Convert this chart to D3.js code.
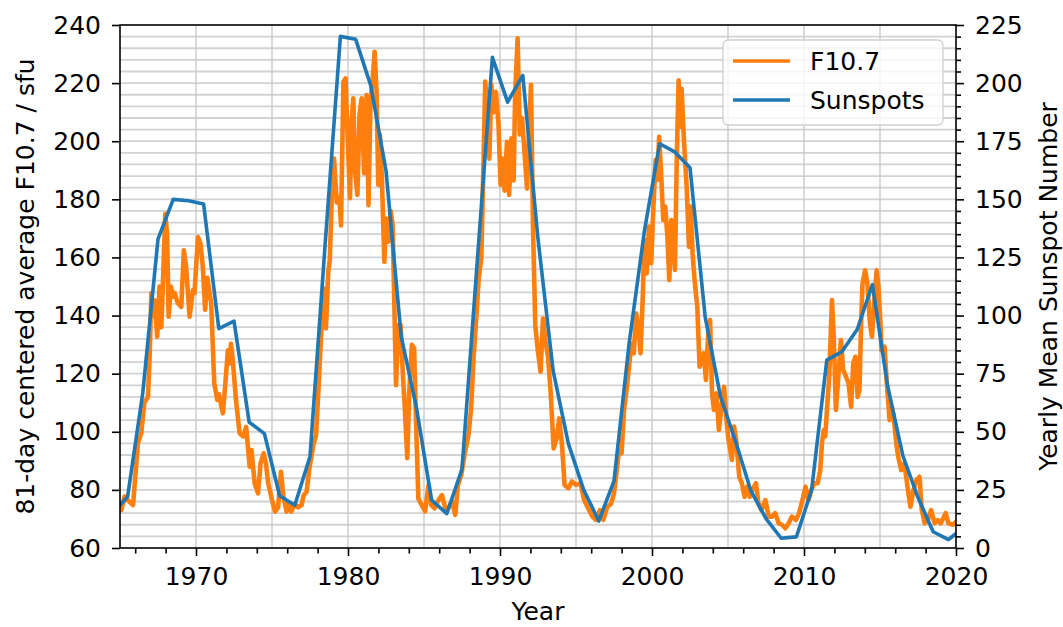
<!DOCTYPE html>
<html>
<head>
<meta charset="utf-8">
<script src="https://cdn.jsdelivr.net/npm/d3@7"></script>
<style>
  html, body { margin: 0; padding: 0; background: #fff; }
  svg { display: block; }
  text { font-family: "DejaVu Sans", sans-serif; }
</style>
</head>
<body>
<svg id="chart" width="1063" height="627"></svg>
<script>
// ---------------- DATA ----------------
const sunspotYears = [1964.5,1965.5,1966.5,1967.5,1968.5,1969.5,1970.5,1971.5,1972.5,1973.5,1974.5,1975.5,1976.5,1977.5,1978.5,1979.5,1980.5,1981.5,1982.5,1983.5,1984.5,1985.5,1986.5,1987.5,1988.5,1989.5,1990.5,1991.5,1992.5,1993.5,1994.5,1995.5,1996.5,1997.5,1998.5,1999.5,2000.5,2001.5,2002.5,2003.5,2004.5,2005.5,2006.5,2007.5,2008.5,2009.5,2010.5,2011.5,2012.5,2013.5,2014.5,2015.5,2016.5,2017.5,2018.5,2019.5,2020.5];
const sunspotValues = [15.0,22.0,66.8,132.9,150.0,149.4,148.0,94.4,97.6,54.1,49.2,22.5,18.4,39.3,131.0,220.1,218.9,198.9,162.4,91.0,60.5,20.6,14.8,33.9,123.0,211.1,191.8,203.3,133.0,76.1,44.9,25.1,11.6,28.9,88.3,136.3,173.9,170.4,163.6,99.3,65.3,45.8,24.7,12.6,4.2,4.8,24.9,80.8,84.5,94.0,113.3,69.8,39.8,21.7,7.0,3.6,8.8];

const f107Time = [1965.0,1965.09,1965.3,1965.5,1965.86,1965.97,1966.18,1966.4,1966.6,1966.84,1966.95,1967.06,1967.1,1967.28,1967.45,1967.6,1967.72,1967.8,1967.98,1968.1,1968.2,1968.35,1968.5,1968.6,1968.8,1969.03,1969.2,1969.35,1969.58,1969.8,1969.9,1970.13,1970.3,1970.45,1970.6,1970.75,1971.0,1971.2,1971.4,1971.5,1971.77,1971.9,1972.1,1972.2,1972.3,1972.4,1972.65,1972.87,1973.1,1973.3,1973.53,1973.65,1973.86,1974.08,1974.25,1974.45,1974.6,1974.75,1974.98,1975.2,1975.4,1975.59,1975.75,1975.96,1976.1,1976.27,1976.5,1976.7,1976.95,1977.07,1977.28,1977.46,1977.72,1977.9,1978.05,1978.2,1978.37,1978.55,1978.7,1978.8,1978.93,1979.08,1979.26,1979.43,1979.54,1979.7,1979.84,1979.98,1980.13,1980.24,1980.35,1980.46,1980.62,1980.76,1980.9,1981.06,1981.22,1981.35,1981.48,1981.66,1981.75,1981.88,1981.99,1982.1,1982.23,1982.39,1982.5,1982.65,1982.81,1982.94,1983.03,1983.16,1983.31,1983.46,1983.6,1983.74,1983.9,1984.03,1984.2,1984.35,1984.48,1984.63,1984.85,1985.07,1985.3,1985.47,1985.7,1985.9,1986.18,1986.4,1986.6,1986.85,1987.06,1987.23,1987.45,1987.7,1987.93,1988.1,1988.26,1988.41,1988.6,1988.77,1988.92,1989.03,1989.15,1989.3,1989.43,1989.58,1989.73,1989.9,1990.04,1990.17,1990.3,1990.46,1990.6,1990.75,1990.9,1991.0,1991.16,1991.3,1991.45,1991.6,1991.78,1991.93,1992.04,1992.17,1992.32,1992.5,1992.67,1992.83,1992.98,1993.16,1993.33,1993.53,1993.73,1993.9,1994.08,1994.25,1994.5,1994.73,1995.0,1995.3,1995.53,1995.8,1996.08,1996.3,1996.58,1996.8,1997.06,1997.3,1997.5,1997.68,1997.83,1998.0,1998.16,1998.3,1998.49,1998.64,1998.8,1998.96,1999.1,1999.25,1999.4,1999.5,1999.65,1999.8,1999.95,2000.07,2000.24,2000.35,2000.47,2000.6,2000.74,2000.87,2001.0,2001.14,2001.27,2001.4,2001.51,2001.62,2001.75,2001.85,2001.95,2002.1,2002.28,2002.43,2002.54,2002.67,2002.8,2002.98,2003.13,2003.3,2003.4,2003.55,2003.7,2003.82,2003.95,2004.08,2004.25,2004.4,2004.57,2004.74,2004.9,2005.03,2005.26,2005.4,2005.56,2005.74,2005.91,2006.09,2006.26,2006.43,2006.6,2006.84,2007.0,2007.2,2007.46,2007.68,2007.9,2008.11,2008.33,2008.55,2008.77,2008.99,2009.2,2009.47,2009.68,2009.95,2010.1,2010.3,2010.47,2010.68,2010.9,2011.07,2011.18,2011.3,2011.4,2011.51,2011.66,2011.84,2011.95,2012.1,2012.26,2012.43,2012.58,2012.76,2012.93,2013.1,2013.24,2013.38,2013.53,2013.65,2013.75,2013.85,2014.02,2014.17,2014.34,2014.47,2014.62,2014.78,2014.9,2015.05,2015.09,2015.3,2015.45,2015.63,2015.78,2015.9,2016.07,2016.2,2016.4,2016.6,2016.84,2017.0,2017.2,2017.4,2017.6,2017.75,2017.94,2018.15,2018.36,2018.6,2018.8,2019.0,2019.32,2019.5,2019.8,2020.0];
const f107Flux = [73,73.1,77.7,76.5,74.8,82.3,96,99.6,110,112,125.8,147.7,139.6,145.3,132.7,150,136,147.7,175,168,139.6,150,146.5,147.7,144.3,143,162.5,156.7,139.6,148.8,147.7,167,164.7,156.7,142,153,144.2,116.7,111,113,106.4,114.5,128,123.5,130.3,125.8,109.8,99.5,98.4,101.7,88,93.7,82.3,78.8,89.2,92.6,89.2,82.3,77,72.5,74,86.2,77.7,72.5,75.2,72.5,75.2,74,74.8,78,79.4,87.4,95.4,99,113.8,129.9,149.4,135.6,155,159,180.3,194,178.9,180.6,171,220.5,221.6,201,180.4,206.6,214.8,190,181.5,209.5,214.8,189,215.9,178,213.6,224,230.8,217,185,202.3,187.3,158.5,173.4,165.4,176,171,148.2,116,136.7,136.7,120.7,108,90.9,113.8,129.9,128.8,102.4,77,74.8,72.6,81.7,74.8,73.7,76,78.2,73.7,73.7,76,71.4,81.7,85.1,93.1,99,108,125.3,136.7,152.8,159.7,194,220.5,211,194,219.4,210,217,206,185,194,183,199.8,181.5,201,186.5,217,235.4,202.3,208,197,183.7,206.6,219.4,171,136.7,127.5,120.7,139,131.4,125.8,113.8,94.3,97.8,104.6,95.4,81.7,80.6,82.9,81.7,82.3,76.5,73.7,70.8,69.7,73,69.7,74.2,75.2,78.8,86.8,93.7,92.6,107.5,113.2,122.4,130.4,127,140.7,136,127,147.7,166,154.5,170.6,158,175,193.5,186.7,201.5,189,172.9,177.5,168.3,152.2,172.9,166,155.7,191.2,221,205,218,200.4,184.3,163.7,177.5,161.4,152.2,143,122.4,125.8,127,117.8,133.8,138.5,113.3,107.5,113.2,100.6,108.6,115.5,104,97.3,90.3,101.8,96.1,84.5,82.3,77.6,81.1,77.6,79.9,82.3,75.4,73,76.5,70.8,70.8,72,68.5,68,66.8,68.5,70.8,69.6,72,77.6,81.1,76.5,79.9,82.3,82.3,86.9,96,100.6,98.4,107.5,119,145.3,133.8,107.5,119,131.6,121.3,119,116.7,108.6,123.5,125.8,112,114.4,136,151,155.6,151,137.3,132.7,144.2,155.6,150,135,128,129.3,116.7,104,108.6,105.2,96,91.4,86.8,89.1,80,74.2,80,83.4,84.5,73,68.5,69.6,73,68.5,69.6,68.5,72,68.5,68,69];

const xMajorTicks = [1970,1980,1990,2000,2010,2020];
const leftTicks = [60,80,100,120,140,160,180,200,220,240];
const rightTicks = [0,25,50,75,100,125,150,175,200,225];
const seriesNames = ["F10.7","Sunspots"];
const labels = { x: "Year", yLeft: "81-day centered average F10.7 / sfu", yRight: "Yearly Mean Sunspot Number" };

// ---------------- LAYOUT ----------------
const L = 120, R = 956, T = 25, B = 548;
const FONT = 25;
const svg = d3.select("#chart");

const x = d3.scaleLinear().domain([1965, 2020]).range([L, R]);
const yL = d3.scaleLinear().domain([60, 240]).range([B, T]);
const yR = d3.scaleLinear().domain([0, 225]).range([B, T]);

const minorX = d3.range(1966, 2021, 2).filter(v => !xMajorTicks.includes(v));
const gridX = d3.range(1970, 2020, 5);
const gridY = d3.range(5, 225, 5);
const minorR = d3.range(5, 225, 5).filter(v => v % 25 !== 0);

// grid
const grid = svg.append("g");
grid.selectAll("line.h").data(gridY).join("line")
  .attr("x1", L).attr("x2", R)
  .attr("y1", d => yR(d)).attr("y2", d => yR(d))
  .attr("stroke", "#d2d2d2").attr("stroke-width", 1.8);
grid.selectAll("line.v").data(gridX).join("line")
  .attr("x1", d => x(d)).attr("x2", d => x(d))
  .attr("y1", T).attr("y2", B)
  .attr("stroke", "#c6c6c6").attr("stroke-width", 1.3);

// clip
svg.append("clipPath").attr("id", "clip").append("rect")
  .attr("x", L).attr("y", T).attr("width", R - L).attr("height", B - T);

const f107 = f107Time.map((t, i) => [t, f107Flux[i]]);
const spots = sunspotYears.map((t, i) => [t, sunspotValues[i]]);

const plot = svg.append("g").attr("clip-path", "url(#clip)");
plot.append("path").datum(f107)
  .attr("d", d3.line().x(d => x(d[0])).y(d => yL(d[1])))
  .attr("fill", "none").attr("stroke", "#ff7f0e").attr("stroke-width", 4.6)
  .attr("stroke-linejoin", "round").attr("stroke-linecap", "round");
plot.append("path").datum(spots)
  .attr("d", d3.line().x(d => x(d[0])).y(d => yR(d[1])))
  .attr("fill", "none").attr("stroke", "#1f77b4").attr("stroke-width", 3.6)
  .attr("stroke-linejoin", "round");

// axes
function styleAxis(g) {
  g.select(".domain").remove();
  g.selectAll(".tick line").attr("stroke", "#000").attr("stroke-width", 1.6);
  g.selectAll(".tick text").attr("fill", "#000").style("font-size", FONT + "px")
    .style("font-family", '"DejaVu Sans", sans-serif');
}
svg.append("g").attr("transform", `translate(0,${B})`)
  .call(d3.axisBottom(x).tickValues(xMajorTicks).tickFormat(d3.format("d")).tickSize(8).tickPadding(11))
  .call(styleAxis);
svg.append("g").attr("transform", `translate(0,${B})`)
  .call(d3.axisBottom(x).tickValues(minorX).tickFormat("").tickSize(5.5))
  .call(styleAxis);
svg.append("g").attr("transform", `translate(${L},0)`)
  .call(d3.axisLeft(yL).tickValues(leftTicks).tickSize(8).tickPadding(11))
  .call(styleAxis);
svg.append("g").attr("transform", `translate(${R},0)`)
  .call(d3.axisRight(yR).tickValues(rightTicks).tickSize(8).tickPadding(11))
  .call(styleAxis);
svg.append("g").attr("transform", `translate(${R},0)`)
  .call(d3.axisRight(yR).tickValues(minorR).tickFormat("").tickSize(5))
  .call(styleAxis);

// spines
svg.append("rect").attr("x", L).attr("y", T).attr("width", R - L).attr("height", B - T)
  .attr("fill", "none").attr("stroke", "#000").attr("stroke-width", 1.6);

// axis labels
svg.append("text").attr("x", (L + R) / 2).attr("y", 620).attr("text-anchor", "middle")
  .style("font-size", FONT + "px").text(labels.x);
svg.append("text").attr("transform", `translate(34,${(T + B) / 2}) rotate(-90)`)
  .attr("text-anchor", "middle").style("font-size", FONT + "px").text(labels.yLeft);
svg.append("text").attr("transform", `translate(1057,${(T + B) / 2}) rotate(-90)`)
  .attr("text-anchor", "middle").style("font-size", FONT + "px").text(labels.yRight);

// legend
const lg = svg.append("g");
lg.append("rect").attr("x", 723).attr("y", 40).attr("width", 220).attr("height", 85)
  .attr("rx", 5).attr("fill", "#fff").attr("fill-opacity", 0.8)
  .attr("stroke", "#d0d0d0").attr("stroke-width", 1.3);
const legColors = ["#ff7f0e", "#1f77b4"];
seriesNames.forEach((name, i) => {
  const yy = 61 + i * 39;
  lg.append("line").attr("x1", 733).attr("x2", 790).attr("y1", yy).attr("y2", yy)
    .attr("stroke", legColors[i]).attr("stroke-width", 3.6);
  lg.append("text").attr("x", 810).attr("y", yy).attr("dy", "0.36em")
    .style("font-size", FONT + "px").text(name);
});
</script>
</body>
</html>
